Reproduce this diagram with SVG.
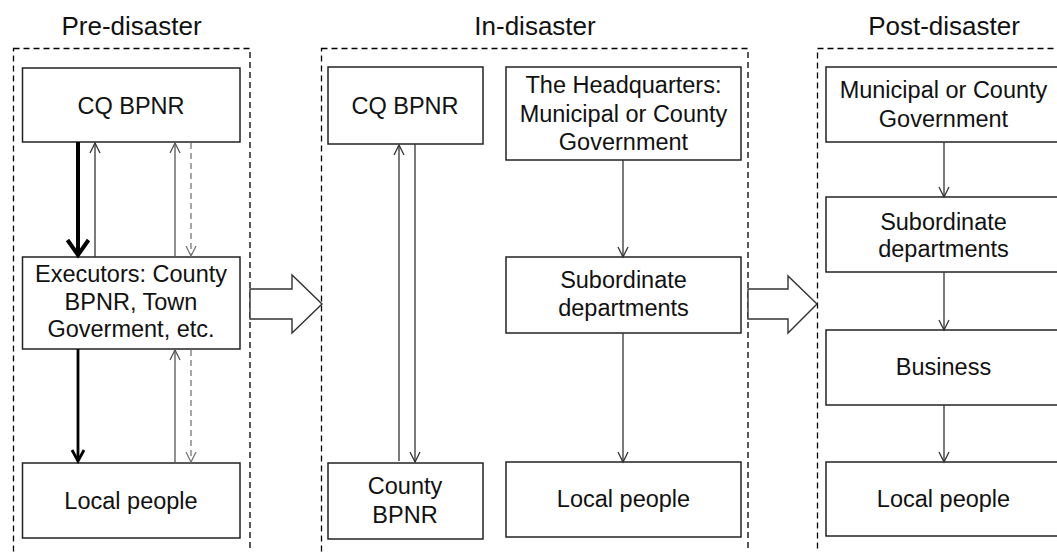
<svg xmlns="http://www.w3.org/2000/svg" width="1057" height="552" viewBox="0 0 1057 552">
  <style>
    .title { font-family: "Liberation Sans", Arial, sans-serif; font-size: 26px; fill: #111; text-anchor: middle; }
    .lbl { font-family: "Liberation Sans", Arial, sans-serif; font-size: 23.5px; fill: #111; text-anchor: middle; }
    .panel { fill: none; stroke: #000; stroke-width: 1.3; stroke-dasharray: 6 4; }
    .box { fill: #fff; stroke: #222; stroke-width: 1.5; }
    .thin { fill: none; stroke: #333; stroke-width: 1.3; marker-end: url(#open); }
    .gray { fill: none; stroke: #555; stroke-width: 1.3; marker-end: url(#openGray); }
    .dash { fill: none; stroke: #777; stroke-width: 1.3; stroke-dasharray: 6 4; marker-end: url(#openDash); }
    .thick { fill: none; stroke: #000; stroke-width: 4; }
    .med { fill: none; stroke: #000; stroke-width: 2.8; }
    .big { fill: #fff; stroke: #333; stroke-width: 1.4; }
  </style>
  <defs>
    <marker id="open" markerUnits="userSpaceOnUse" markerWidth="12" markerHeight="12" refX="0" refY="0" orient="auto" overflow="visible">
      <path d="M-10,-5 L0,0 L-10,5" fill="none" stroke="#333" stroke-width="1.3"/>
    </marker>
    <marker id="openGray" markerUnits="userSpaceOnUse" markerWidth="12" markerHeight="12" refX="0" refY="0" orient="auto" overflow="visible">
      <path d="M-10,-5 L0,0 L-10,5" fill="none" stroke="#555" stroke-width="1.3"/>
    </marker>
    <marker id="openDash" markerUnits="userSpaceOnUse" markerWidth="12" markerHeight="12" refX="0" refY="0" orient="auto" overflow="visible">
      <path d="M-10,-5 L0,0 L-10,5" fill="none" stroke="#777" stroke-width="1.3"/>
    </marker>
  </defs>

  <!-- Panels -->
  <g id="panel-pre">
    <rect class="panel" x="13.5" y="48.5" width="236.5" height="520"/>
    <text class="title" x="131.5" y="35">Pre-disaster</text>
  </g>
  <g id="panel-in">
    <rect class="panel" x="321.5" y="48.5" width="426.5" height="520"/>
    <text class="title" x="535" y="35">In-disaster</text>
  </g>
  <g id="panel-post">
    <rect class="panel" x="817.5" y="48.5" width="260" height="520"/>
    <text class="title" x="944" y="35">Post-disaster</text>
  </g>

  <!-- Pre-disaster nodes -->
  <g id="pre-cq">
    <rect class="box" x="22.5" y="68" width="217.5" height="74"/>
    <text class="lbl" x="131" y="114">CQ BPNR</text>
  </g>
  <g id="pre-exec">
    <rect class="box" x="22.5" y="257" width="217.5" height="92"/>
    <text class="lbl" x="131" y="282">Executors: County</text>
    <text class="lbl" x="131" y="310">BPNR, Town</text>
    <text class="lbl" x="131" y="337">Goverment, etc.</text>
  </g>
  <g id="pre-local">
    <rect class="box" x="22.5" y="463" width="217.5" height="75"/>
    <text class="lbl" x="131" y="509">Local people</text>
  </g>

  <!-- In-disaster nodes -->
  <g id="in-cq">
    <rect class="box" x="328" y="67" width="155" height="77"/>
    <text class="lbl" x="405" y="114">CQ BPNR</text>
  </g>
  <g id="in-hq">
    <rect class="box" x="506" y="67" width="235" height="93"/>
    <text class="lbl" x="623.5" y="93">The Headquarters:</text>
    <text class="lbl" x="623.5" y="122">Municipal or County</text>
    <text class="lbl" x="623.5" y="150">Government</text>
  </g>
  <g id="in-sub">
    <rect class="box" x="506" y="257" width="235" height="76"/>
    <text class="lbl" x="623.5" y="288">Subordinate</text>
    <text class="lbl" x="623.5" y="316">departments</text>
  </g>
  <g id="in-county">
    <rect class="box" x="328" y="463" width="155" height="76"/>
    <text class="lbl" x="405" y="494">County</text>
    <text class="lbl" x="405" y="523">BPNR</text>
  </g>
  <g id="in-local">
    <rect class="box" x="506" y="462" width="235" height="75"/>
    <text class="lbl" x="623.5" y="507">Local people</text>
  </g>

  <!-- Post-disaster nodes -->
  <g id="post-gov">
    <rect class="box" x="826" y="67" width="250" height="75"/>
    <text class="lbl" x="943.5" y="98">Municipal or County</text>
    <text class="lbl" x="943.5" y="127">Government</text>
  </g>
  <g id="post-sub">
    <rect class="box" x="826" y="197" width="250" height="75"/>
    <text class="lbl" x="943.5" y="230">Subordinate</text>
    <text class="lbl" x="943.5" y="257">departments</text>
  </g>
  <g id="post-business">
    <rect class="box" x="826" y="330" width="250" height="75"/>
    <text class="lbl" x="943.5" y="375">Business</text>
  </g>
  <g id="post-local">
    <rect class="box" x="826" y="462" width="250" height="74"/>
    <text class="lbl" x="943.5" y="507">Local people</text>
  </g>

  <!-- Connectors -->
  <g id="connectors">
    <!-- Pre-disaster: CQ BPNR <-> Executors -->
    <line class="thick" x1="78" y1="142" x2="78" y2="253"/>
    <polyline class="thick" points="67.5,240 78,255 88.5,240"/>
    <line class="thin" x1="95" y1="257" x2="95" y2="143"/>
    <line class="gray" x1="175" y1="257" x2="175" y2="143"/>
    <line class="dash" x1="191" y1="143" x2="191" y2="256"/>
    <!-- Pre-disaster: Executors <-> Local people -->
    <line class="med" x1="78" y1="349" x2="78" y2="460"/>
    <polyline class="med" points="72,450 78,461 84,450"/>
    <line class="gray" x1="175" y1="463" x2="175" y2="350"/>
    <line class="dash" x1="191" y1="350" x2="191" y2="462"/>

    <!-- In-disaster -->
    <line class="thin" x1="399" y1="461" x2="399" y2="145"/>
    <line class="thin" x1="415" y1="144" x2="415" y2="462"/>
    <line class="thin" x1="623" y1="160" x2="623" y2="257"/>
    <line class="thin" x1="623" y1="333" x2="623" y2="462"/>

    <!-- Post-disaster -->
    <line class="thin" x1="944" y1="142" x2="944" y2="197"/>
    <line class="thin" x1="944" y1="272" x2="944" y2="330"/>
    <line class="thin" x1="944" y1="405" x2="944" y2="462"/>

    <!-- Phase transition arrows -->
    <polygon class="big" points="250,289 292,289 292,275 322,304 292,333 292,319 250,319"/>
    <polygon class="big" points="748,289 788,289 788,276 817,304 788,333 788,319 748,319"/>
  </g>
</svg>
